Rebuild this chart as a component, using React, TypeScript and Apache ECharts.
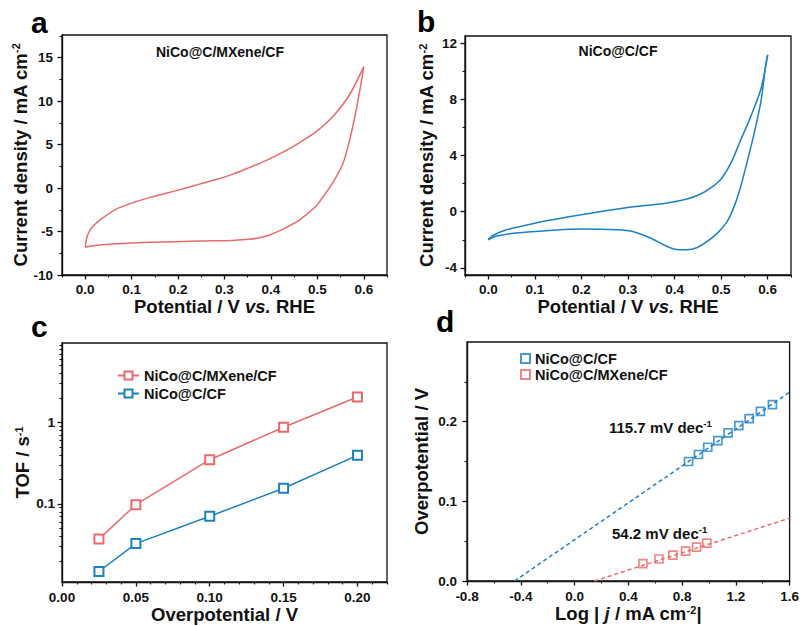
import { useEffect, useRef } from 'react';
import * as echarts from 'echarts';

// ---------- data ----------
const cvMXeneForward: [number, number][] = [
  [0, -6.8], [0.004, -5.6], [0.012, -4.7], [0.03, -3.75], [0.066, -2.45], [0.102, -1.7],
  [0.138, -1.1], [0.174, -0.6], [0.21, -0.1], [0.246, 0.45], [0.282, 0.98], [0.318, 1.6],
  [0.353, 2.35], [0.389, 3.15], [0.425, 4.1], [0.461, 5.2], [0.497, 6.45], [0.533, 8.2],
  [0.569, 10.7], [0.6, 13.96],
];
const cvMXeneReverse: [number, number][] = [
  [0.6, 13.96], [0.594, 12.0], [0.583, 8.8], [0.569, 5.4], [0.555, 2.8], [0.533, 0.6],
  [0.511, -1.1], [0.497, -2.1], [0.461, -3.7], [0.425, -4.75], [0.389, -5.55], [0.353, -5.9],
  [0.318, -6.02], [0.246, -6.1], [0.174, -6.2], [0.102, -6.32], [0.03, -6.55], [0, -6.8],
];
const cvNiCoForward: [number, number][] = [
  [0, -1.99], [0.009, -1.71], [0.0375, -1.3], [0.095, -0.85], [0.167, -0.4], [0.239, 0.0],
  [0.312, 0.35], [0.384, 0.62], [0.427, 0.9], [0.456, 1.26], [0.477, 1.68], [0.499, 2.3],
  [0.521, 3.46], [0.542, 5.1], [0.564, 6.8], [0.586, 8.8], [0.6, 11.16],
];
const cvNiCoReverse: [number, number][] = [
  [0.6, 11.16], [0.596, 10.5], [0.586, 7.96], [0.571, 5.59], [0.557, 3.7], [0.542, 1.8],
  [0.528, 0.38], [0.513, -0.69], [0.492, -1.52], [0.47, -2.11], [0.449, -2.54], [0.427, -2.7],
  [0.409, -2.7], [0.384, -2.47], [0.348, -1.87], [0.312, -1.42], [0.275, -1.28], [0.203, -1.23],
  [0.131, -1.33], [0.059, -1.52], [0.016, -1.75], [0, -1.99],
];

const tofOverpotential = [0.025, 0.05, 0.1, 0.15, 0.2];
const tofMXene = [0.037, 0.098, 0.35, 0.875, 2.06];
const tofNiCo = [0.0148, 0.0326, 0.0706, 0.156, 0.396];

const tafelNiCoLogJ = [0.848, 0.922, 0.991, 1.066, 1.142, 1.222, 1.299, 1.383, 1.472];
const tafelNiCoEta = [0.15, 0.1588, 0.1679, 0.1763, 0.186, 0.1951, 0.2039, 0.213, 0.2214];
const tafelMXeneLogJ = [0.509, 0.628, 0.732, 0.826, 0.908, 0.984];
const tafelMXeneEta = [0.0218, 0.0276, 0.0326, 0.0376, 0.0426, 0.0476];
const tafelNiCoFit: [number, number][] = [[-0.447, 0], [1.6, 0.237]];
const tafelMXeneFit: [number, number][] = [[0.147, 0], [1.6, 0.0788]];

const seriesNames = ['NiCo@C/MXene/CF', 'NiCo@C/CF'];
const slopeLabels = ['115.7 mV dec', '54.2 mV dec'];

// tick values
const cvXTicks = [0, 0.1, 0.2, 0.3, 0.4, 0.5, 0.6];
const cvXMinor = [-0.05, 0.05, 0.15, 0.25, 0.35, 0.45, 0.55, 0.65];
const cvAYTicks = [-10, -5, 0, 5, 10, 15];
const cvAYMinor = [-7.5, -2.5, 2.5, 7.5, 12.5, 17.5];
const cvBYTicks = [-4, 0, 4, 8, 12];
const cvBYMinor = [-2, 2, 6, 10];
const tofXTicks = [0, 0.05, 0.1, 0.15, 0.2];
const tofXMinor = [0.01, 0.02, 0.03, 0.04, 0.06, 0.07, 0.08, 0.09, 0.11, 0.12, 0.13, 0.14, 0.16, 0.17, 0.18, 0.19, 0.21, 0.22];
const tofYTicks = [0.1, 1];
const tofYMinor = [0.02, 0.03, 0.04, 0.05, 0.06, 0.07, 0.08, 0.09, 0.2, 0.3, 0.4, 0.5, 0.6, 0.7, 0.8, 0.9, 2, 3, 4, 5, 6, 7, 8, 9];
const tafelXTicks = [-0.8, -0.4, 0, 0.4, 0.8, 1.2, 1.6];
const tafelXMinor = [-0.6, -0.2, 0.2, 0.6, 1.0, 1.4];
const tafelYTicks = [0, 0.1, 0.2];
const tafelYMinor = [0.05, 0.15, 0.25];

// ---------- styling ----------
const RED = '#e96a6c';
const BLUE = '#1c80c4';
const FONT = '"Liberation Sans", Arial, Helvetica, sans-serif';
const INK = '#111';
const NAME_SIZE = 18.5;

const nameRich = {
  b: { fontFamily: FONT, fontWeight: 'bold', fontSize: NAME_SIZE, color: INK },
  i: { fontFamily: FONT, fontWeight: 'bold', fontStyle: 'italic', fontSize: NAME_SIZE, color: INK },
  sup: { fontFamily: FONT, fontWeight: 'bold', fontSize: 11, color: INK, verticalAlign: 'top', lineHeight: 10 },
};

function axisPair(opts: {
  dim: 'x' | 'y';
  grid: number;
  type?: 'value' | 'log';
  min: number;
  max: number;
  ticks: number[];
  minors: number[];
  fmt: (v: number) => string;
  name: string;
  nameGap: number;
  labelMargin: number;
}) {
  const type = opts.type || 'value';
  const main: any = {
    type,
    gridIndex: opts.grid,
    min: opts.min,
    max: opts.max,
    position: opts.dim === 'x' ? 'bottom' : 'left',
    name: opts.name,
    nameLocation: 'middle',
    nameGap: opts.nameGap,
    nameTextStyle: { rich: nameRich, fontFamily: FONT, fontWeight: 'bold', fontSize: NAME_SIZE, color: INK },
    axisLine: { show: true, onZero: false, lineStyle: { color: INK, width: 1.4 } },
    axisTick: { show: true, length: 4.5, customValues: opts.ticks, lineStyle: { color: INK, width: 1.3 } },
    axisLabel: {
      show: true,
      customValues: opts.ticks,
      formatter: (v: number) => opts.fmt(v),
      margin: opts.labelMargin,
      fontFamily: FONT,
      fontWeight: 'bold',
      fontSize: 13.5,
      color: INK,
    },
    splitLine: { show: false },
  };
  const minor: any = {
    type,
    gridIndex: opts.grid,
    min: opts.min,
    max: opts.max,
    position: opts.dim === 'x' ? 'bottom' : 'left',
    axisLine: { show: false, onZero: false },
    axisTick: { show: true, length: 2.5, customValues: opts.minors, lineStyle: { color: INK, width: 1.1 } },
    axisLabel: { show: false },
    splitLine: { show: false },
  };
  return [main, minor];
}

const gridBase = { show: true, borderColor: INK, borderWidth: 1.3, backgroundColor: 'transparent' };

function buildOption() {
  const [ax0, ax1] = axisPair({ dim: 'x', grid: 0, min: -0.05, max: 0.65, ticks: cvXTicks, minors: cvXMinor, fmt: (v) => v.toFixed(1), name: '{b|Potential / V }{i|vs.}{b| RHE}', nameGap: 15, labelMargin: 7 });
  const [ax2, ax3] = axisPair({ dim: 'x', grid: 1, min: -0.05, max: 0.65, ticks: cvXTicks, minors: cvXMinor, fmt: (v) => v.toFixed(1), name: '{b|Potential / V }{i|vs.}{b| RHE}', nameGap: 15, labelMargin: 7 });
  const [ax4, ax5] = axisPair({ dim: 'x', grid: 2, min: 0, max: 0.22, ticks: tofXTicks, minors: tofXMinor, fmt: (v) => v.toFixed(2), name: '{b|Overpotential / V}', nameGap: 23, labelMargin: 8 });
  const [ax6, ax7] = axisPair({ dim: 'x', grid: 3, min: -0.8, max: 1.6, ticks: tafelXTicks, minors: tafelXMinor, fmt: (v) => v.toFixed(1), name: '{b|Log | }{i|j}{b| / mA cm}{sup|-2}{b||}', nameGap: 23, labelMargin: 8 });

  const [ay0, ay1] = axisPair({ dim: 'y', grid: 0, min: -10, max: 17.6, ticks: cvAYTicks, minors: cvAYMinor, fmt: (v) => String(Math.round(v)), name: '{b|Current density / mA cm}{sup|-2}', nameGap: 29, labelMargin: 9 });
  const [ay2, ay3] = axisPair({ dim: 'y', grid: 1, min: -4.5, max: 12.5, ticks: cvBYTicks, minors: cvBYMinor, fmt: (v) => String(Math.round(v)), name: '{b|Current density / mA cm}{sup|-2}', nameGap: 29, labelMargin: 8 });
  const [ay4, ay5] = axisPair({ dim: 'y', grid: 2, type: 'log', min: 0.011, max: 9.5, ticks: tofYTicks, minors: tofYMinor, fmt: (v) => (v >= 1 ? String(Math.round(v)) : String(v)), name: '{b|TOF / s}{sup|-1}', nameGap: 28, labelMargin: 7 });
  const [ay6, ay7] = axisPair({ dim: 'y', grid: 3, min: 0, max: 0.3, ticks: tafelYTicks, minors: tafelYMinor, fmt: (v) => v.toFixed(1), name: '{b|Overpotential / V}', nameGap: 36, labelMargin: 10 });

  const lineBase = { type: 'line', showSymbol: false, symbol: 'none', smooth: 0.25, silent: true };

  const annot = (text: string, x: number, y: number, size = 15, align = 'left') => ({
    type: 'text',
    x,
    y,
    silent: true,
    style: {
      text,
      fontFamily: FONT,
      fontWeight: 'bold',
      fontSize: size,
      fill: INK,
      align,
      verticalAlign: 'middle',
      rich: {
        b: { fontFamily: FONT, fontWeight: 'bold', fontSize: size, fill: INK, color: INK, lineHeight: 18 },
        sup: { fontFamily: FONT, fontWeight: 'bold', fontSize: 9.5, fill: INK, color: INK, verticalAlign: 'top', lineHeight: 10 },
      },
    },
  });

  return {
    animation: false,
    backgroundColor: '#fff',
    grid: [
      { ...gridBase, left: 62, top: 35, width: 325, height: 240 },
      { ...gridBase, left: 465, top: 36, width: 326, height: 239 },
      { ...gridBase, left: 62, top: 343, width: 325, height: 239 },
      { ...gridBase, left: 467, top: 342, width: 323, height: 239 },
    ],
    xAxis: [ax0, ax1, ax2, ax3, ax4, ax5, ax6, ax7],
    yAxis: [ay0, ay1, ay2, ay3, ay4, ay5, ay6, ay7],
    legend: [
      {
        orient: 'vertical',
        left: 112,
        top: 363,
        itemWidth: 21,
        itemHeight: 10,
        itemGap: 3,
        selectedMode: false,
        data: ['c:' + seriesNames[0], 'c:' + seriesNames[1]],
        formatter: (n: string) => n.slice(2),
        textStyle: { fontFamily: FONT, fontWeight: 'bold', fontSize: 14.5, color: INK },
      },
      {
        orient: 'vertical',
        left: 515,
        top: 346,
        itemWidth: 9,
        itemHeight: 9,
        itemGap: 1,
        selectedMode: false,
        data: ['d:' + seriesNames[1], 'd:' + seriesNames[0]],
        formatter: (n: string) => n.slice(2),
        textStyle: { fontFamily: FONT, fontWeight: 'bold', fontSize: 14.5, color: INK },
      },
    ],
    graphic: [
      { type: 'text', x: 31, y: 22, silent: true, style: { text: 'a', fontFamily: FONT, fontWeight: 'bold', fontSize: 30, fill: '#000', verticalAlign: 'middle' } },
      { type: 'text', x: 417, y: 21, silent: true, style: { text: 'b', fontFamily: FONT, fontWeight: 'bold', fontSize: 30, fill: '#000', verticalAlign: 'middle' } },
      { type: 'text', x: 31, y: 326, silent: true, style: { text: 'c', fontFamily: FONT, fontWeight: 'bold', fontSize: 30, fill: '#000', verticalAlign: 'middle' } },
      { type: 'text', x: 436, y: 321, silent: true, style: { text: 'd', fontFamily: FONT, fontWeight: 'bold', fontSize: 30, fill: '#000', verticalAlign: 'middle' } },
      annot(seriesNames[0], 220, 52, 14, 'center'),
      annot(seriesNames[1], 618, 51, 14, 'center'),
      annot('{b|' + slopeLabels[0] + '}{sup|-1}', 609, 427),
      annot('{b|' + slopeLabels[1] + '}{sup|-1}', 612, 533),
    ],
    series: [
      { ...lineBase, name: 'cvA1', xAxisIndex: 0, yAxisIndex: 0, data: cvMXeneForward, lineStyle: { color: RED, width: 1.5 } },
      { ...lineBase, name: 'cvA2', xAxisIndex: 0, yAxisIndex: 0, data: cvMXeneReverse, lineStyle: { color: RED, width: 1.5 } },
      { ...lineBase, name: 'cvB1', xAxisIndex: 2, yAxisIndex: 2, data: cvNiCoForward, lineStyle: { color: BLUE, width: 1.5 } },
      { ...lineBase, name: 'cvB2', xAxisIndex: 2, yAxisIndex: 2, data: cvNiCoReverse, lineStyle: { color: BLUE, width: 1.5 } },
      {
        type: 'line', name: 'c:' + seriesNames[0], xAxisIndex: 4, yAxisIndex: 4,
        data: tofOverpotential.map((x, i) => [x, tofMXene[i]]),
        symbol: 'emptyRect', symbolSize: 9, showSymbol: true,
        lineStyle: { color: RED, width: 1.5 }, itemStyle: { color: RED, borderWidth: 1.6 }, color: RED,
      },
      {
        type: 'line', name: 'c:' + seriesNames[1], xAxisIndex: 4, yAxisIndex: 4,
        data: tofOverpotential.map((x, i) => [x, tofNiCo[i]]),
        symbol: 'emptyRect', symbolSize: 9, showSymbol: true,
        lineStyle: { color: BLUE, width: 1.5 }, itemStyle: { color: BLUE, borderWidth: 1.6 }, color: BLUE,
      },
      {
        type: 'line', name: 'fitNiCo', xAxisIndex: 6, yAxisIndex: 6, data: tafelNiCoFit, showSymbol: false, symbol: 'none', silent: true,
        lineStyle: { color: BLUE, width: 1.5, type: [4, 3] }, z: 1,
      },
      {
        type: 'line', name: 'fitMXene', xAxisIndex: 6, yAxisIndex: 6, data: tafelMXeneFit, showSymbol: false, symbol: 'none', silent: true,
        lineStyle: { color: RED, width: 1.5, type: [4, 3] }, z: 1,
      },
      {
        type: 'scatter', name: 'd:' + seriesNames[1], xAxisIndex: 6, yAxisIndex: 6,
        data: tafelNiCoLogJ.map((x, i) => [x, tafelNiCoEta[i]]),
        symbol: 'rect', symbolSize: 8,
        itemStyle: { color: 'rgba(255,255,255,0)', borderColor: BLUE, borderWidth: 1.7 }, z: 3,
      },
      {
        type: 'scatter', name: 'd:' + seriesNames[0], xAxisIndex: 6, yAxisIndex: 6,
        data: tafelMXeneLogJ.map((x, i) => [x, tafelMXeneEta[i]]),
        symbol: 'rect', symbolSize: 8,
        itemStyle: { color: 'rgba(255,255,255,0)', borderColor: RED, borderWidth: 1.7 }, z: 3,
      },
    ],
  };
}

export default function App() {
  const ref = useRef<HTMLDivElement>(null);
  useEffect(() => {
    document.body.style.margin = '0';
    if (!ref.current) return;
    const chart = echarts.init(ref.current, null, { renderer: 'svg' });
    chart.setOption(buildOption() as any);
    return () => chart.dispose();
  }, []);
  return <div ref={ref} style={{ width: 802, height: 626, background: '#fff' }} />;
}
